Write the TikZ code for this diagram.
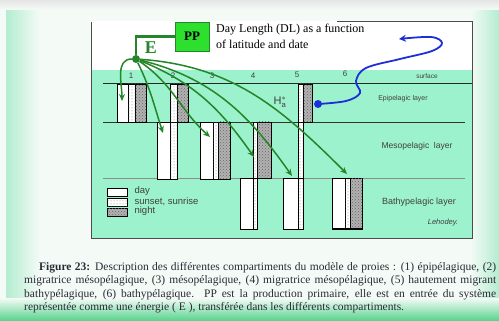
\documentclass[tikz,border=0pt]{standalone}
\usepackage{fontspec}
\setmainfont{Liberation Serif}
\setsansfont{Liberation Sans}
\usepackage{xcolor}
\usetikzlibrary{arrows.meta, positioning, patterns, calc}

\definecolor{seamint}{HTML}{9CF2CC}
\definecolor{pagetint}{HTML}{F4FBF7}
\definecolor{rimgreen}{HTML}{B4ECD0}
\definecolor{basegreen}{HTML}{55D28A}
\definecolor{feedgreen}{HTML}{25852A}
\definecolor{ppgreen}{HTML}{2EE02E}
\definecolor{dlblue}{HTML}{1E2ED8}
\definecolor{capink}{HTML}{2A2A36}

\begin{document}
\begin{tikzpicture}[
    x=1pt, y=1pt,
    lbl/.style={font=\sffamily\fontsize{8}{9}\selectfont, text=black!75, inner sep=0pt},
    keytext/.style={lbl, font=\sffamily\fontsize{9.5}{10}\selectfont},
    daypart/.style={draw=black, line width=0.8pt, fill=white},
    duskpart/.style={daypart, postaction={pattern=dots, pattern color=black!50}},
    nightpart/.style={draw=black, line width=0.8pt, fill=black!30, postaction={pattern=crosshatch dots, pattern color=black!60}},
    feed/.style={draw=feedgreen, line width=1.5pt, -{Stealth[length=7pt, width=6pt]}},
    legendkey/.style={minimum width=20pt, minimum height=8pt, inner sep=0pt},
    capline/.style={font=\fontsize{11.5}{13.5}\selectfont, text=capink, anchor=base west, inner sep=0pt}
]
    \useasboundingbox (0,0) rectangle (499,-321);

    % page background
    \fill[pagetint] (0,0) rectangle (499,-321);
    \shade[left color=rimgreen, right color=pagetint] (6,0) rectangle (40,-321);
    \shade[left color=pagetint, right color=rimgreen] (470,0) rectangle (499,-321);
    \shade[top color=black!10, bottom color=pagetint] (0,0) rectangle (499,-10);
    \shade[top color=pagetint, bottom color=basegreen] (0,-298) rectangle (499,-321);

    % water column and frame
    \fill[white] (91,-21) rectangle (472,-238);
    \fill[seamint] (91,-70) rectangle (472,-238);
    \draw[black!70, line width=0.8pt] (91,-22) -- (91,-238) -- (472,-238) -- (472,-21) -- (337,-21);

    % layer limits
    \draw[black!85, line width=1pt] (103,-83.5) -- (472,-83.5);
    \draw[black!80, line width=0.9pt] (103,-122) -- (465,-122);
    \draw[black!45, line width=0.6pt] (103,-178.5) -- (465,-178.5);

    % compartment numbers
    \node[lbl] (n1) at (131,-76) {1};
    \node[lbl] (n2) at (173,-76) {2};
    \node[lbl] (n3) at (212,-76) {3};
    \node[lbl] (n4) at (253,-76) {4};
    \node[lbl] (n5) at (297,-75) {5};
    \node[lbl] (n6) at (345,-74) {6};

    % (1) epipelagic
    \draw[daypart] (117,-84) rectangle (128,-122);
    \draw[duskpart] (128,-84) rectangle (135,-122);
    \draw[nightpart] (135,-84) rectangle (146,-122);

    % (2) migrant mesopelagic
    \draw[duskpart] (170,-84) rectangle (177,-122);
    \draw[nightpart] (177,-84) rectangle (188,-122);
    \draw[daypart] (157,-122) rectangle (170,-179);
    \draw[duskpart] (170,-122) rectangle (177,-179);

    % (3) mesopelagic
    \draw[daypart] (200,-122) rectangle (213,-179);
    \draw[duskpart] (213,-122) rectangle (218,-179);
    \draw[nightpart] (218,-122) rectangle (230,-179);

    % (4) migrant bathypelagic
    \draw[duskpart] (253,-122) rectangle (257,-178);
    \draw[nightpart] (257,-122) rectangle (271,-178);
    \draw[daypart] (240,-178) rectangle (253,-229);
    \draw[duskpart] (253,-178) rectangle (257,-229);

    % (5) highly migrant bathypelagic
    \draw[duskpart] (298,-84) rectangle (303,-122);
    \draw[nightpart] (303,-84) rectangle (312,-122);
    \draw[duskpart] (298,-122) rectangle (303,-178);
    \draw[daypart] (283,-178) rectangle (298,-229);
    \draw[duskpart] (298,-178) rectangle (303,-229);

    % (6) bathypelagic
    \draw[daypart] (332,-178) rectangle (345,-229);
    \draw[duskpart] (345,-178) rectangle (350,-229);
    \draw[nightpart] (350,-178) rectangle (362,-229);
    \draw[line width=1.6pt] (332,-229) -- (362,-229);

    % layer names
    \node[lbl, font=\sffamily\fontsize{6.5}{7}\selectfont] (surf) at (427,-76) {surface};
    \node[lbl, font=\sffamily\fontsize{7}{8}\selectfont] (epi) at (403,-99) {Epipelagic layer};
    \node[lbl, font=\sffamily\fontsize{8.5}{9}\selectfont] (meso) at (417,-146) {Mesopelagic\ \ layer};
    \node[lbl, font=\sffamily\fontsize{9}{10}\selectfont] (bathy) at (419,-202) {Bathypelagic layer};
    \node[lbl, font=\sffamily\itshape\fontsize{7.5}{8}\selectfont] (auth) at (443,-223) {Lehodey.};
    \node[lbl, font=\sffamily\fontsize{11}{11}\selectfont] (hstar) at (280,-102) {$\mathsf{H}_{\mathsf{a}}^{*}$};

    % legend
    \node[daypart, legendkey] (kday) at (117,-192) {};
    \node[duskpart, legendkey] (kdusk) at (117,-202.5) {};
    \node[nightpart, legendkey] (knight) at (117,-212.5) {};
    \node[keytext, right=7pt of kday, yshift=1pt] (tday) {day};
    \node[keytext, right=7pt of kdusk, yshift=1pt] (tdusk) {sunset, sunrise};
    \node[keytext, right=7pt of knight, yshift=1pt] (tnight) {night};

    % primary production and energy
    \node[draw=feedgreen, line width=0.8pt, fill=ppgreen, minimum width=34pt, minimum height=29pt, inner sep=0pt,
          font=\bfseries\fontsize{13}{13}\selectfont] (pp) at (192,-36.5) {PP};
    \node[font=\bfseries\fontsize{18}{18}\selectfont, text=feedgreen] (energy) at (151,-48) {E};
    \node[circle, fill=feedgreen, minimum size=8pt, inner sep=0pt] (hub) at (136,-59) {};
    \draw[feedgreen, line width=2.6pt] (pp.west) -| (hub);

    % energy towards each compartment
    \coordinate (c1) at (122,-101);
    \coordinate (c2) at (163,-133);
    \coordinate (c3) at (210,-137);
    \coordinate (c4) at (254,-157);
    \coordinate (c5) at (292,-176);
    \coordinate (c6) at (347,-174);
    \draw[feed] (hub) to[out=180, in=90] (c1);
    \draw[feed] (hub) to[out=-64, in=108] (c2);
    \draw[feed] (hub) to[out=-34, in=138] (c3);
    \draw[feed] (hub) to[out=-22, in=125] (c4);
    \draw[feed] (hub) to[out=-14, in=125] (c5);
    \draw[feed] (hub) to[out=-4, in=135] (c6);

    % day length
    \node[align=left, anchor=north west, inner sep=0pt, font=\fontsize{12}{16}\selectfont] (daylen) at (216,-24)
        {Day Length (DL) as a function\\of latitude and date};
    \node[circle, fill=dlblue, minimum size=8pt, inner sep=0pt] (hdot) at (318,-104) {};
    \coordinate (w1) at (346,-101);
    \coordinate (w2) at (360,-93);
    \coordinate (w3) at (356,-81);
    \coordinate (w4) at (366,-68);
    \coordinate (w5) at (400,-59);
    \coordinate (w6) at (432,-51);
    \coordinate (w7) at (442,-43);
    \coordinate (w8) at (431,-37);
    \coordinate (dltip) at (399,-39);
    \draw[dlblue, line width=1.8pt, -{Stealth[length=7pt, width=7pt]}]
        plot[smooth, tension=0.6] coordinates {(hdot) (w1) (w2) (w3) (w4) (w5) (w6) (w7) (w8) (dltip)};

    % caption
    \node[capline] (cap1) at (39,-270) {\makebox[457pt][s]{\textbf{Figure 23:} Description des différentes compartiments du modèle de proies : (1) épipélagique, (2)}};
    \node[capline] (cap2) at (24,-283.5) {\makebox[472pt][s]{migratrice mésopélagique, (3) mésopélagique, (4) migratrice mésopélagique, (5) hautement migrant}};
    \node[capline] (cap3) at (24,-297) {\makebox[472pt][s]{bathypélagique, (6) bathypélagique. PP est la production primaire, elle est en entrée du système}};
    \node[capline] (cap4) at (24,-310.5) {représentée comme une énergie ( E ), transférée dans les différents compartiments.};

\end{tikzpicture}
\end{document}
